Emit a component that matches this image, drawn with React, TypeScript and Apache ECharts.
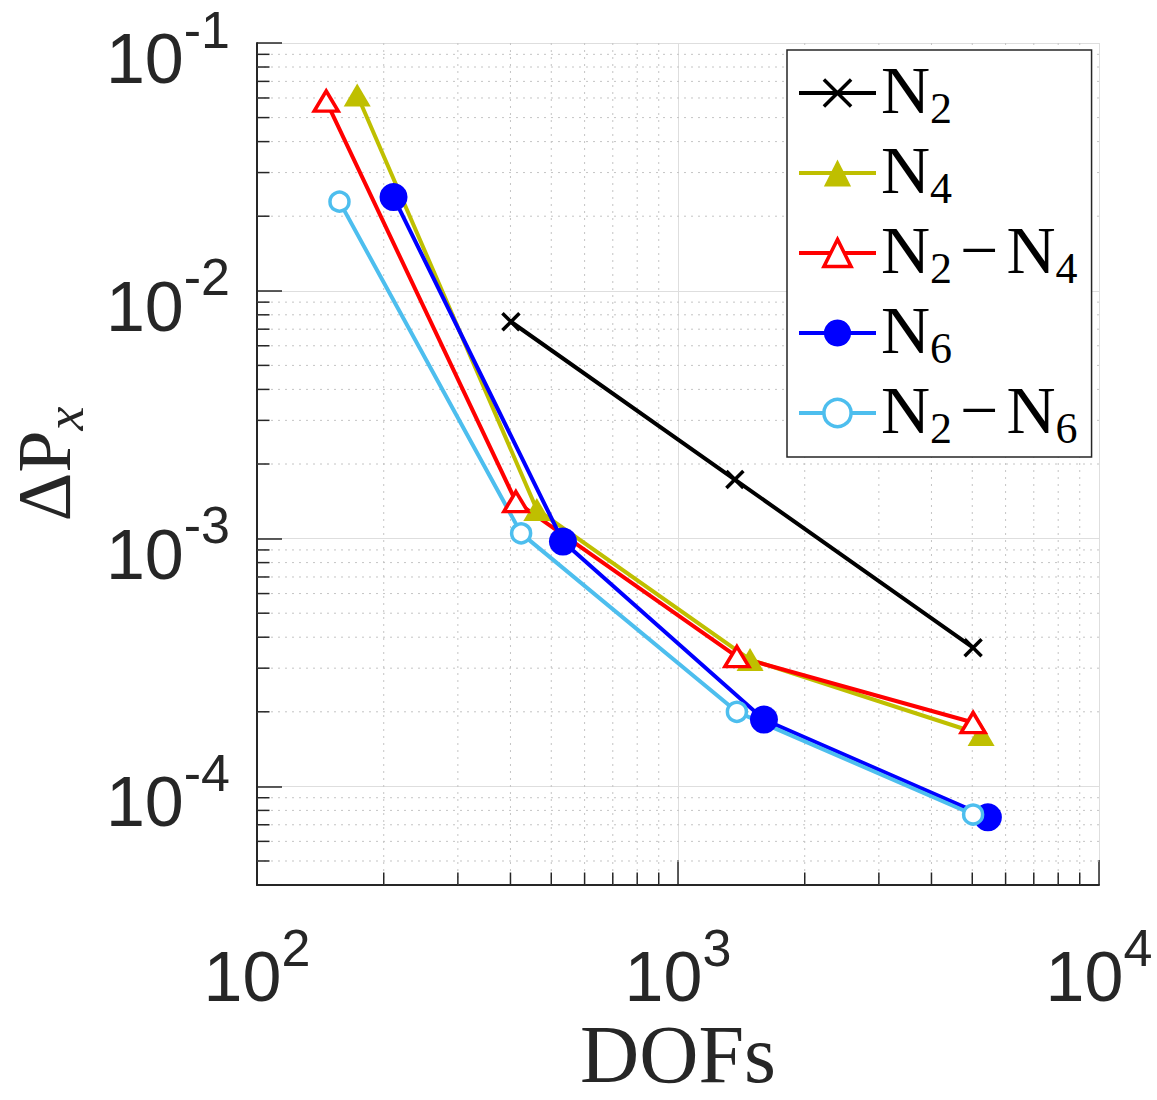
import React, { useEffect, useRef } from "react";
import * as echarts from "echarts";

// Convergence data: degrees of freedom vs. error in P_x
const dofsN2 = [401, 1365, 5023];
const errN2 = [7.5e-3, 1.73e-3, 3.63e-4];
const dofsN4 = [173, 462, 1483, 5248];
const errN4 = [6.17e-2, 1.31e-3, 3.25e-4, 1.62e-4];
const dofsN2N4 = [146, 412, 1380, 5023];
const errN2N4 = [5.83e-2, 1.41e-3, 3.34e-4, 1.81e-4];
const dofsN6 = [211, 533, 1600, 5446];
const errN6 = [2.39e-2, 9.73e-4, 1.86e-4, 7.5e-5];
const dofsN2N6 = [157, 424, 1380, 5023];
const errN2N6 = [2.29e-2, 1.05e-3, 2.0e-4, 7.7e-5];

const seriesNames = ["N2", "N4", "N2-N4", "N6", "N2-N6"];
const legendLabels = [
  "{n|N}{s|2}",
  "{n|N}{s|4}",
  "{n|N}{s|2}{m|−}{n|N}{s|4}",
  "{n|N}{s|6}",
  "{n|N}{s|2}{m|−}{n|N}{s|6}",
];

const X_MIN = 100;
const X_MAX = 10000;
const Y_MIN = 4e-5;
const Y_MAX = 0.1;

const INK = "#262626";
const SANS = "Liberation Sans";
const SERIF = "Liberation Serif";
const MAJOR_GRID = "#dedede";
const MINOR_GRID = "#c4c4c4";
const LINE_W = 4;
const MARKER_EDGE = 3.5;

const zip = (xs: number[], ys: number[]) => xs.map((x, i) => [x, ys[i]]);

function powLabel(v: number): string {
  const e = Math.log10(v);
  const r = Math.round(e);
  if (Math.abs(e - r) > 1e-6) return "";
  return `{b|10}{s|${r}}`;
}

// minor decade positions (2..9 × 10^k) inside the axis ranges
function minorValues(lo: number, hi: number): number[] {
  const out: number[] = [];
  const start = Math.floor(Math.log10(lo));
  const end = Math.ceil(Math.log10(hi));
  for (let e = start; e < end; e++) {
    for (let k = 2; k <= 9; k++) {
      const v = k * Math.pow(10, e);
      if (v > lo * 1.001 && v < hi * 0.999) out.push(v);
    }
  }
  return out;
}

// "10" with a raised exponent
const tickRich = {
  b: { fontFamily: SANS, fontSize: 70, lineHeight: 102, verticalAlign: "bottom", color: INK },
  s: { fontFamily: SANS, fontSize: 52, lineHeight: 52, verticalAlign: "top", padding: [11.5, 0, 0, 0], color: INK },
};

export default function App() {
  const ref = useRef<HTMLDivElement>(null);

  useEffect(() => {
    if (!ref.current) return;
    const chart = echarts.init(ref.current, undefined, { renderer: "svg" });

    const minorX = minorValues(X_MIN, X_MAX);
    const minorY = minorValues(Y_MIN, Y_MAX);

    // dotted minor grid and short minor ticks at 2..9 of every decade
    const minorGrid = {
      type: "custom",
      name: "minor",
      silent: true,
      z: 1,
      data: [[1000, 1e-3]],
      renderItem: (_params: any, api: any) => {
        const lines: any[] = [];
        const ticks: any[] = [];
        minorX.forEach((v) => {
          const top = api.coord([v, Y_MAX]);
          const bot = api.coord([v, Y_MIN]);
          lines.push({
            type: "line",
            shape: { x1: top[0], y1: top[1], x2: bot[0], y2: bot[1] },
            style: { stroke: MINOR_GRID, lineWidth: 1, lineDash: [2, 5] },
          });
          ticks.push({
            type: "line",
            shape: { x1: bot[0], y1: bot[1], x2: bot[0], y2: bot[1] - 12.5 },
            style: { stroke: INK, lineWidth: 1.5 },
          });
        });
        minorY.forEach((v) => {
          const l = api.coord([X_MIN, v]);
          const r = api.coord([X_MAX, v]);
          lines.push({
            type: "line",
            shape: { x1: l[0], y1: l[1], x2: r[0], y2: r[1] },
            style: { stroke: MINOR_GRID, lineWidth: 1, lineDash: [2, 5] },
          });
          ticks.push({
            type: "line",
            shape: { x1: l[0], y1: l[1], x2: l[0] + 12.5, y2: l[1] },
            style: { stroke: INK, lineWidth: 1.5 },
          });
        });
        return { type: "group", children: lines.concat(ticks) };
      },
    };

    const option: any = {
      animation: false,
      backgroundColor: "#fff",
      grid: {
        left: 257,
        top: 43,
        width: 842,
        height: 842,
        containLabel: false,
        outerBoundsMode: "none",
      },
      xAxis: {
        type: "log",
        logBase: 10,
        min: X_MIN,
        max: X_MAX,
        name: "DOFs",
        nameLocation: "middle",
        nameGap: 128,
        nameMoveOverlap: false,
        nameTextStyle: { fontFamily: SERIF, fontSize: 82, color: INK },
        axisLine: { onZero: false, lineStyle: { color: INK, width: 2 } },
        axisTick: { inside: true, length: 25, lineStyle: { color: INK, width: 1.5 } },
        axisLabel: { margin: 25, formatter: powLabel, rich: tickRich },
        splitLine: { show: true, lineStyle: { color: MAJOR_GRID, width: 1 } },
      },
      yAxis: {
        type: "log",
        logBase: 10,
        min: Y_MIN,
        max: Y_MAX,
        name: "{n|ΔP}{s|x}",
        nameLocation: "middle",
        nameRotate: 90,
        nameGap: 165,
        nameMoveOverlap: false,
        nameTextStyle: {
          rich: {
            n: { fontFamily: SERIF, fontSize: 76, lineHeight: 86, verticalAlign: "top", color: INK },
            s: {
              fontFamily: SERIF,
              fontStyle: "italic",
              fontSize: 54,
              lineHeight: 54,
              verticalAlign: "bottom",
              color: INK,
            },
          },
        },
        axisLine: { onZero: false, lineStyle: { color: INK, width: 2 } },
        axisTick: { inside: true, length: 25, lineStyle: { color: INK, width: 1.5 } },
        axisLabel: { margin: 27, formatter: powLabel, rich: tickRich },
        splitLine: { show: true, lineStyle: { color: MAJOR_GRID, width: 1 } },
      },
      legend: {
        orient: "vertical",
        left: 787,
        top: 50,
        padding: [5.75, 14, 6.75, 10],
        itemGap: 5.5,
        itemWidth: 77,
        itemHeight: 34,
        backgroundColor: "#fff",
        borderColor: INK,
        borderWidth: 1.5,
        borderRadius: 0,
        selectedMode: false,
        lineStyle: { width: LINE_W },
        data: [
          { name: "N2", itemStyle: { color: "#000", borderColor: "#000", borderWidth: MARKER_EDGE } },
          { name: "N4", itemStyle: { color: "#bfbf00", borderWidth: 0 } },
          { name: "N2-N4", itemStyle: { color: "#fff", borderColor: "#ff0000", borderWidth: MARKER_EDGE } },
          { name: "N6", itemStyle: { color: "#0000ff", borderWidth: 0 } },
          { name: "N2-N6", itemStyle: { color: "#fff", borderColor: "#4dbeee", borderWidth: MARKER_EDGE } },
        ],
        formatter: (name: string) => legendLabels[seriesNames.indexOf(name)],
        textStyle: {
          rich: {
            n: { fontFamily: SERIF, fontSize: 68, lineHeight: 74.5, verticalAlign: "top", color: "#000" },
            s: { fontFamily: SERIF, fontSize: 44, lineHeight: 44, verticalAlign: "bottom", color: "#000" },
            m: {
              fontFamily: SERIF,
              fontSize: 68,
              lineHeight: 74.5,
              verticalAlign: "top",
              color: "#000",
              padding: [0, 8, 0, 8],
            },
          },
        },
      },
      series: [
        minorGrid,
        {
          type: "line",
          name: "N2",
          data: zip(dofsN2, errN2),
          symbol: "path://M0,0L10,10M10,0L0,10",
          symbolSize: 17,
          lineStyle: { color: "#000", width: LINE_W },
          itemStyle: { color: "#000", borderColor: "#000", borderWidth: MARKER_EDGE },
          z: 3,
        },
        {
          type: "line",
          name: "N4",
          data: zip(dofsN4, errN4),
          symbol: "triangle",
          symbolSize: [27, 23],
          lineStyle: { color: "#bfbf00", width: LINE_W },
          itemStyle: { color: "#bfbf00", borderWidth: 0 },
          z: 3,
        },
        {
          type: "line",
          name: "N2-N4",
          data: zip(dofsN2N4, errN2N4),
          symbol: "triangle",
          symbolSize: [24, 20],
          lineStyle: { color: "#ff0000", width: LINE_W },
          itemStyle: { color: "#fff", borderColor: "#ff0000", borderWidth: MARKER_EDGE },
          z: 3,
        },
        {
          type: "line",
          name: "N6",
          data: zip(dofsN6, errN6),
          symbol: "circle",
          symbolSize: 28,
          lineStyle: { color: "#0000ff", width: LINE_W },
          itemStyle: { color: "#0000ff", borderWidth: 0 },
          z: 3,
        },
        {
          type: "line",
          name: "N2-N6",
          data: zip(dofsN2N6, errN2N6),
          symbol: "circle",
          symbolSize: 19,
          lineStyle: { color: "#4dbeee", width: LINE_W },
          itemStyle: { color: "#fff", borderColor: "#4dbeee", borderWidth: MARKER_EDGE },
          z: 3,
        },
      ],
    };

    chart.setOption(option);
    return () => chart.dispose();
  }, []);

  return (
    <div
      ref={ref}
      style={{ position: "absolute", left: 0, top: 0, width: 1157, height: 1100, background: "#fff" }}
    />
  );
}
